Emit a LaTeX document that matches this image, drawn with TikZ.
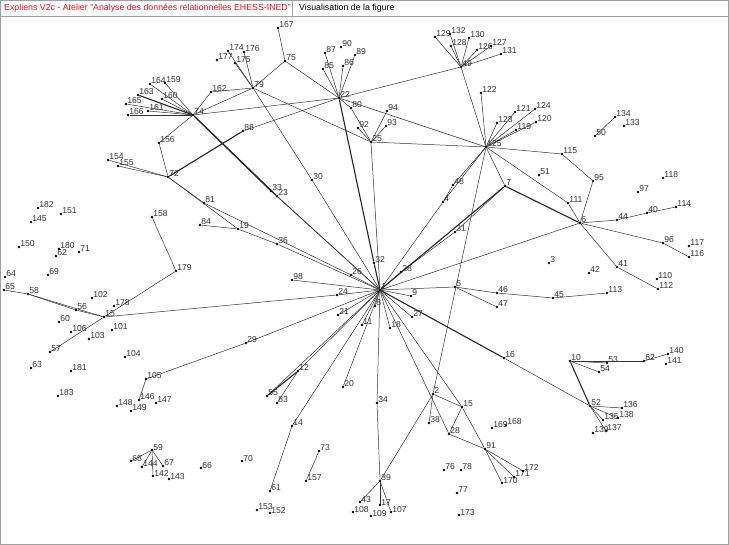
\documentclass[tikz,border=0pt]{standalone}
\usepackage{fontspec}
\setmainfont{Liberation Sans}
\definecolor{hdrred}{RGB}{225,25,30}
\definecolor{framegray}{RGB}{160,160,160}
\newcommand\mkvtx[4]{\node[vtx] (n#1) at (#3,#4) {};\node[lbl] (t#1) at (n#1.center) {#2};}
\begin{document}
\begin{tikzpicture}[x=1pt,y=-1pt,
  vtx/.style={circle,fill=black,inner sep=0pt,minimum size=2.6pt},
  lbl/.style={anchor=base west,inner sep=0pt,xshift=1.2pt,font=\fontsize{8.6}{9}\selectfont,text=black!80},
  edge/.style={line width=0.5pt,black!80},
  thk/.style={line width=1.1pt,black!85},
  hdr/.style={anchor=west,inner sep=0pt,font=\fontsize{8.8}{10}\selectfont}]
\useasboundingbox (0,0) rectangle (729,545);
\fill[white] (0,0) rectangle (729,545);
% frame and header
\draw[framegray,line width=0.8pt] (0.5,0.5) rectangle (728.5,544.5);
\draw[framegray,line width=0.8pt] (0.5,0.5) rectangle (292,16.5);
\draw[framegray,line width=0.8pt] (292,0.5) rectangle (728.5,16.5);
\node[hdr,text=hdrred] (hdra) at (4,8.5) {Expliens V2c - Atelier "Analyse des données relationnelles EHESS-INED"};
\node[hdr,text=black] (hdrb) at (299,8.5) {Visualisation de la figure};
% vertices
\mkvtx{1}{1}{380}{290}
\mkvtx{2}{2}{433}{394}
\mkvtx{3}{3}{549}{263}
\mkvtx{4}{4}{443}{202}
\mkvtx{5}{5}{455}{287}
\mkvtx{6}{6}{580}{223}
\mkvtx{7}{7}{505}{186}
\mkvtx{8}{8}{375}{306}
\mkvtx{9}{9}{411}{296}
\mkvtx{10}{10}{570}{361}
\mkvtx{11}{11}{362}{325}
\mkvtx{12}{12}{298}{371}
\mkvtx{14}{14}{292}{426}
\mkvtx{15}{15}{462}{407}
\mkvtx{15b}{15}{104}{317}
\mkvtx{16}{16}{504}{358}
\mkvtx{17}{17}{380}{505}
\mkvtx{18}{18}{390}{328}
\mkvtx{19}{19}{238}{229}
\mkvtx{20}{20}{343}{387}
\mkvtx{21}{21}{338}{315}
\mkvtx{22}{22}{339}{98}
\mkvtx{23}{23}{277}{196}
\mkvtx{24}{24}{337}{295}
\mkvtx{25}{25}{371}{142}
\mkvtx{26}{26}{351}{275}
\mkvtx{27}{27}{412}{317}
\mkvtx{28}{28}{449}{434}
\mkvtx{28b}{28}{401}{272}
\mkvtx{29}{29}{246}{343}
\mkvtx{30}{30}{312}{180}
\mkvtx{31}{31}{455}{232}
\mkvtx{32}{32}{374}{263}
\mkvtx{33}{33}{271}{191}
\mkvtx{34}{34}{377}{403}
\mkvtx{36}{36}{277}{244}
\mkvtx{38}{38}{429}{423}
\mkvtx{39}{39}{380}{481}
\mkvtx{40}{40}{647}{213}
\mkvtx{41}{41}{617}{267}
\mkvtx{42}{42}{589}{273}
\mkvtx{43}{43}{360}{502}
\mkvtx{44}{44}{617}{220}
\mkvtx{45}{45}{553}{298}
\mkvtx{46}{46}{497}{293}
\mkvtx{47}{47}{497}{307}
\mkvtx{48}{48}{453}{185}
\mkvtx{49}{49}{461}{67}
\mkvtx{50}{50}{595}{136}
\mkvtx{51}{51}{539}{175}
\mkvtx{52}{52}{590}{406}
\mkvtx{53}{53}{607}{363}
\mkvtx{54}{54}{599}{372}
\mkvtx{55}{55}{267}{396}
\mkvtx{56}{56}{76}{310}
\mkvtx{57}{57}{50}{352}
\mkvtx{58}{58}{28}{294}
\mkvtx{59}{59}{152}{450}
\mkvtx{60}{60}{59}{322}
\mkvtx{61}{61}{270}{491}
\mkvtx{62}{62}{56}{256}
\mkvtx{63}{63}{31}{368}
\mkvtx{64}{64}{5}{277}
\mkvtx{65}{65}{4}{290}
\mkvtx{66}{66}{201}{468}
\mkvtx{67}{67}{163}{466}
\mkvtx{68}{68}{131}{461}
\mkvtx{69}{69}{48}{275}
\mkvtx{70}{70}{242}{461}
\mkvtx{71}{71}{79}{252}
\mkvtx{72}{72}{168}{177}
\mkvtx{73}{73}{319}{451}
\mkvtx{74}{74}{193}{115}
\mkvtx{75}{75}{285}{61}
\mkvtx{76}{76}{444}{470}
\mkvtx{77}{77}{457}{493}
\mkvtx{78}{78}{461}{470}
\mkvtx{79}{79}{253}{88}
\mkvtx{80}{80}{351}{108}
\mkvtx{81}{81}{204}{203}
\mkvtx{82}{82}{644}{361}
\mkvtx{83}{83}{277}{403}
\mkvtx{84}{84}{200}{225}
\mkvtx{85}{85}{323}{69}
\mkvtx{86}{86}{343}{66}
\mkvtx{87}{87}{325}{53}
\mkvtx{88}{88}{243}{131}
\mkvtx{89}{89}{355}{55}
\mkvtx{90}{90}{341}{47}
\mkvtx{91}{91}{485}{449}
\mkvtx{92}{92}{358}{128}
\mkvtx{93}{93}{386}{126}
\mkvtx{94}{94}{387}{111}
\mkvtx{95}{95}{593}{181}
\mkvtx{96}{96}{663}{243}
\mkvtx{97}{97}{638}{192}
\mkvtx{98}{98}{292}{280}
\mkvtx{101}{101}{112}{330}
\mkvtx{102}{102}{92}{298}
\mkvtx{103}{103}{89}{339}
\mkvtx{104}{104}{125}{357}
\mkvtx{105}{105}{146}{379}
\mkvtx{106}{106}{71}{332}
\mkvtx{107}{107}{391}{512}
\mkvtx{108}{108}{353}{512}
\mkvtx{109}{109}{371}{516}
\mkvtx{110}{110}{657}{279}
\mkvtx{111}{111}{568}{203}
\mkvtx{112}{112}{658}{289}
\mkvtx{113}{113}{607}{293}
\mkvtx{114}{114}{676}{207}
\mkvtx{115}{115}{562}{154}
\mkvtx{116}{116}{689}{257}
\mkvtx{117}{117}{689}{246}
\mkvtx{118}{118}{663}{178}
\mkvtx{119}{119}{516}{130}
\mkvtx{120}{120}{536}{122}
\mkvtx{121}{121}{515}{112}
\mkvtx{122}{122}{481}{93}
\mkvtx{123}{123}{497}{123}
\mkvtx{124}{124}{535}{109}
\mkvtx{125}{125}{486}{147}
\mkvtx{126}{126}{477}{50}
\mkvtx{127}{127}{491}{46}
\mkvtx{128}{128}{451}{46}
\mkvtx{129}{129}{435}{37}
\mkvtx{130}{130}{469}{38}
\mkvtx{131}{131}{501}{54}
\mkvtx{132}{132}{450}{34}
\mkvtx{133}{133}{624}{126}
\mkvtx{134}{134}{615}{117}
\mkvtx{135}{135}{603}{420}
\mkvtx{136}{136}{622}{408}
\mkvtx{137}{137}{606}{431}
\mkvtx{138}{138}{618}{418}
\mkvtx{139}{139}{593}{433}
\mkvtx{140}{140}{668}{354}
\mkvtx{141}{141}{666}{364}
\mkvtx{142}{142}{153}{476}
\mkvtx{143}{143}{169}{479}
\mkvtx{144}{144}{142}{467}
\mkvtx{145}{145}{31}{222}
\mkvtx{146}{146}{139}{400}
\mkvtx{147}{147}{156}{403}
\mkvtx{148}{148}{117}{406}
\mkvtx{149}{149}{131}{411}
\mkvtx{150}{150}{19}{247}
\mkvtx{151}{151}{61}{214}
\mkvtx{152}{152}{270}{513}
\mkvtx{153}{153}{257}{510}
\mkvtx{154}{154}{108}{160}
\mkvtx{155}{155}{118}{166}
\mkvtx{156}{156}{159}{143}
\mkvtx{157}{157}{306}{481}
\mkvtx{158}{158}{152}{217}
\mkvtx{159}{159}{165}{83}
\mkvtx{160}{160}{162}{99}
\mkvtx{161}{161}{148}{111}
\mkvtx{162}{162}{211}{92}
\mkvtx{163}{163}{138}{95}
\mkvtx{164}{164}{150}{84}
\mkvtx{165}{165}{126}{104}
\mkvtx{166}{166}{128}{115}
\mkvtx{167}{167}{278}{28}
\mkvtx{168}{168}{506}{425}
\mkvtx{169}{169}{492}{428}
\mkvtx{170}{170}{502}{483}
\mkvtx{171}{171}{514}{477}
\mkvtx{172}{172}{523}{471}
\mkvtx{173}{173}{459}{515}
\mkvtx{174}{174}{228}{51}
\mkvtx{175}{175}{235}{63}
\mkvtx{176}{176}{244}{52}
\mkvtx{177}{177}{217}{60}
\mkvtx{178}{178}{114}{306}
\mkvtx{179}{179}{176}{271}
\mkvtx{180}{180}{59}{249}
\mkvtx{181}{181}{71}{371}
\mkvtx{182}{182}{38}{208}
\mkvtx{183}{183}{58}{396}
% edges
\foreach \a/\b in {74/159,74/164,74/160,74/165,74/161,74/166,74/162,74/156,74/79,74/22,
  162/79,156/72,154/72,155/72,
  79/174,79/175,79/176,79/75,79/25,79/30,30/1,
  75/167,75/22,
  22/87,22/85,22/86,22/89,22/80,22/49,22/88,22/125,
  80/25,92/25,25/94,25/93,25/125,25/1,
  49/129,49/132,49/128,49/130,49/126,49/127,49/131,49/125,122/125,
  125/123,125/121,125/124,125/120,125/119,125/115,125/2,125/48,125/4,48/4,4/1,125/7,125/111,111/6,
  115/95,95/6,6/44,44/40,40/114,6/96,96/116,6/41,41/112,6/1,
  1/28b,28b/31,31/7,
  134/50,
  72/81,72/19,84/19,81/26,26/1,19/36,36/1,
  33/1,23/1,
  15b/24,24/1,65/58,58/56,56/15b,58/15b,57/15b,15b/179,179/158,
  1/98,1/9,1/27,1/18,1/11,1/8,1/21,
  1/29,29/105,105/146,
  1/12,12/83,1/55,1/14,14/61,1/20,1/34,34/39,39/43,39/17,39/107,39/2,
  2/38,2/15,1/28,15/28,28/91,1/15,15/91,91/172,91/171,91/170,
  1/5,5/46,5/47,46/45,45/113,
  16/52,52/136,52/135,52/138,52/137,10/53,10/54,10/82,82/140,
  59/68,59/144,59/142,59/67,
  73/157}
  \draw[edge] (n\a) -- (n\b);
\foreach \a/\b in {74/33,74/23,163/74,88/72,22/32,32/1,1/16,1/7,6/7,52/10,12/55}
  \draw[thk] (n\a) -- (n\b);
\end{tikzpicture}
\end{document}
